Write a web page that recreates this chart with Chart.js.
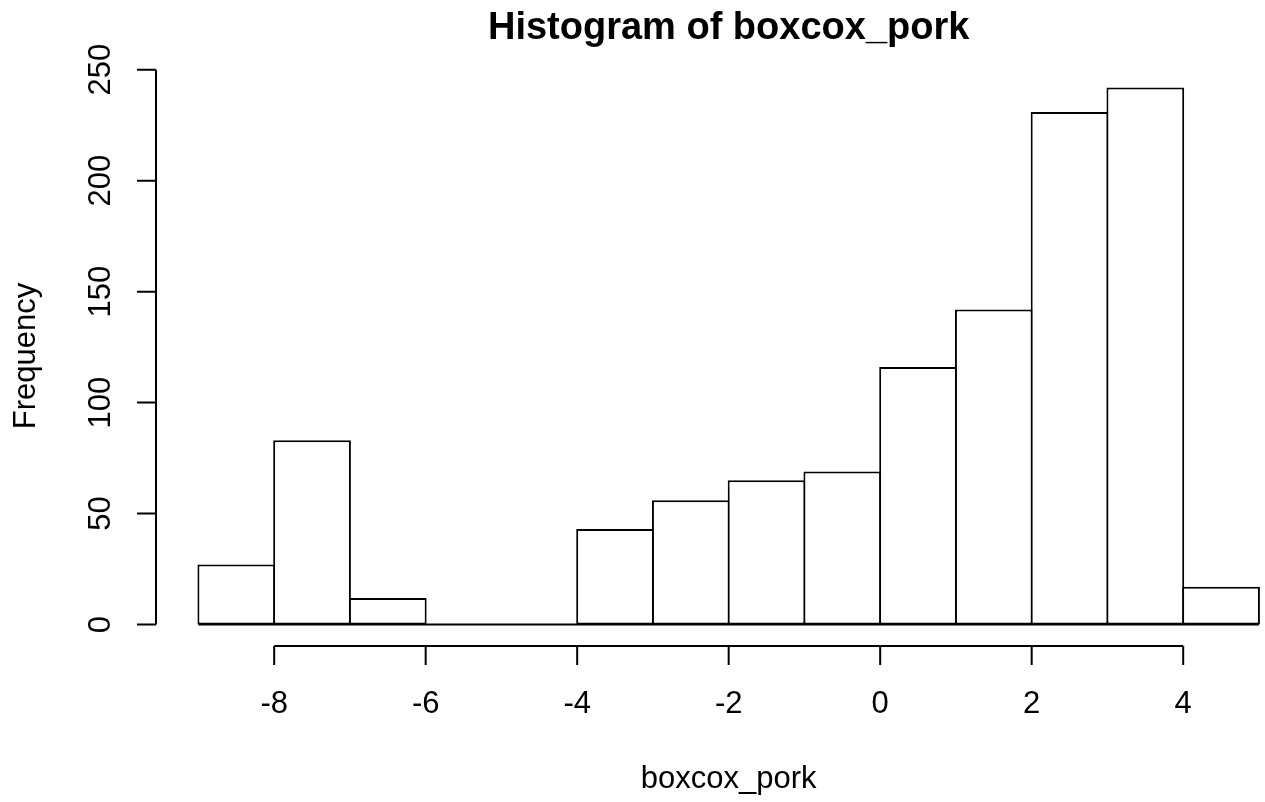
<!DOCTYPE html>
<html>
<head>
<meta charset="utf-8">
<script src="https://cdn.jsdelivr.net/npm/chart.js@4.4.1/dist/chart.umd.min.js"></script>
<style>
  html, body { margin: 0; padding: 0; background: #fff; }
  #histo { display: block; }
</style>
</head>
<body>
<canvas id="histo" width="1265" height="802"></canvas>
<script>
// histogram bins (breaks) and the counts
const breaks = [-9, -8, -7, -6, -5, -4, -3, -2, -1, 0, 1, 2, 3, 4, 5];
const counts = [27, 83, 12, 0, 0, 43, 56, 65, 69, 116, 142, 231, 242, 17];
const xTicks = [-8, -6, -4, -2, 0, 2, 4];
const yTicks = [0, 50, 100, 150, 200, 250];
const mainTitle = "Histogram of boxcox_pork";
const xTitle = "boxcox_pork";
const yTitle = "Frequency";

const FONT = "'Liberation Sans', Arial, Helvetica, sans-serif";

// R style: plot range is data range + 4% on each side
var xMin = breaks[0], xMax = breaks[breaks.length - 1];
var xPad = (xMax - xMin) * 0.04;
var yTop = Math.max.apply(null, counts);
var yPad = yTop * 0.04;
// the picture is cut on the right, just after the last bin
var xViewMax = 5.08;

var points = [];
for (var i = 0; i < counts.length; i++) {
    points.push({ x: (breaks[i] + breaks[i + 1]) / 2, y: counts[i] });
}

// draws the R-like axes, tick labels and titles
const rAxes = {
    id: "rAxes",
    afterDatasetsDraw: function (chart) {
        var ctx = chart.ctx;
        var xs = chart.scales.x, ys = chart.scales.y;
        var area = chart.chartArea;
        var cx = xs.getPixelForValue((xMin + xMax) / 2);
        var cy = (area.top + area.bottom) / 2;

        ctx.save();
        ctx.strokeStyle = "#000";
        ctx.fillStyle = "#000";
        ctx.lineWidth = 2;

        // baseline under the empty bins
        ctx.beginPath();
        ctx.moveTo(xs.getPixelForValue(breaks[0]), ys.getPixelForValue(0));
        ctx.lineTo(xs.getPixelForValue(breaks[breaks.length - 1]), ys.getPixelForValue(0));
        ctx.stroke();

        // x axis
        var xl = area.bottom;
        ctx.beginPath();
        ctx.moveTo(xs.getPixelForValue(xTicks[0]), xl);
        ctx.lineTo(xs.getPixelForValue(xTicks[xTicks.length - 1]), xl);
        for (var i = 0; i < xTicks.length; i++) {
            var px = xs.getPixelForValue(xTicks[i]);
            ctx.moveTo(px, xl);
            ctx.lineTo(px, xl + 19);
        }
        ctx.stroke();
        ctx.font = "31px " + FONT;
        ctx.textAlign = "center";
        ctx.textBaseline = "alphabetic";
        for (var i = 0; i < xTicks.length; i++) {
            ctx.fillText(String(xTicks[i]), xs.getPixelForValue(xTicks[i]), xl + 67);
        }
        ctx.fillText(xTitle, cx, xl + 142);

        // y axis
        var yl = area.left;
        ctx.beginPath();
        ctx.moveTo(yl, ys.getPixelForValue(yTicks[0]));
        ctx.lineTo(yl, ys.getPixelForValue(yTicks[yTicks.length - 1]));
        for (var j = 0; j < yTicks.length; j++) {
            var py = ys.getPixelForValue(yTicks[j]);
            ctx.moveTo(yl, py);
            ctx.lineTo(yl - 19, py);
        }
        ctx.stroke();
        for (var j = 0; j < yTicks.length; j++) {
            ctx.save();
            ctx.translate(yl - 46, ys.getPixelForValue(yTicks[j]));
            ctx.rotate(-Math.PI / 2);
            ctx.fillText(String(yTicks[j]), 0, 0);
            ctx.restore();
        }
        ctx.save();
        ctx.translate(yl - 121, cy);
        ctx.rotate(-Math.PI / 2);
        ctx.fillText(yTitle, 0, 0);
        ctx.restore();

        // main title
        ctx.font = "bold 38px " + FONT;
        ctx.fillText(mainTitle, cx, area.top - 27);
        ctx.restore();
    }
};

var ctx_histo = document.getElementById("histo").getContext("2d");
var chart = new Chart(ctx_histo, {
    type: "bar",
    data: {
        datasets: [{
            label: xTitle,
            data: points,
            backgroundColor: "#ffffff",
            borderColor: "#000000",
            borderWidth: 2,
            borderSkipped: false,
            barPercentage: 1.026,
            categoryPercentage: 1
        }]
    },
    options: {
        responsive: false,
        animation: false,
        events: [],
        layout: {
            padding: { left: 156, right: 0, top: 66, bottom: 156 }
        },
        scales: {
            x: { type: "linear", display: false, offset: false, min: xMin - xPad, max: xViewMax },
            y: { type: "linear", display: false, min: -yPad, max: yTop + yPad }
        },
        plugins: {
            legend: { display: false },
            tooltip: { enabled: false },
            title: { display: false }
        }
    },
    plugins: [rAxes]
});
</script>
</body>
</html>
